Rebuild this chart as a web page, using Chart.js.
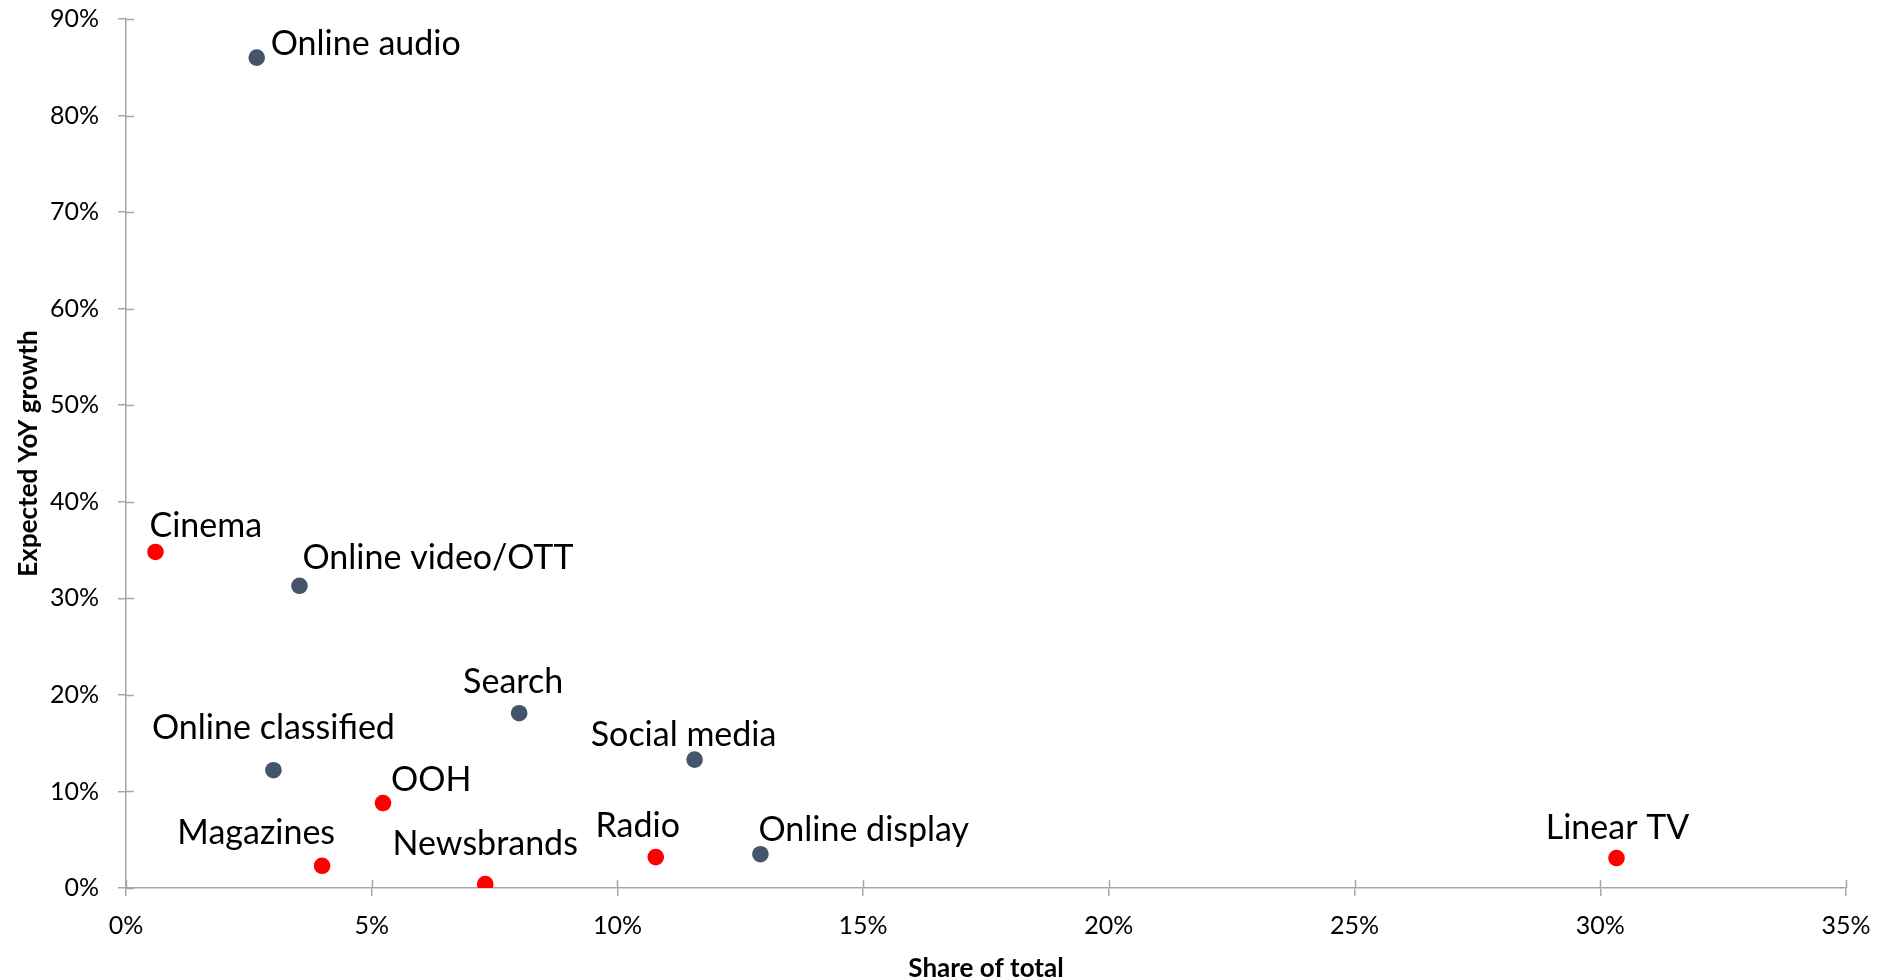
<!DOCTYPE html>
<html>
<head>
<meta charset="utf-8">
<script src="https://cdn.jsdelivr.net/npm/chart.js@4"></script>
<style>
  html, body { margin: 0; padding: 0; background: #fff; }
  #wrap { width: 1878px; height: 978px; }
</style>
</head>
<body>
<div id="wrap"><canvas id="chart"></canvas></div>
<script>
// media channels: share of total spend vs expected YoY growth (%)
const channels = ['Online audio', 'Cinema', 'Online video/OTT', 'Search', 'Online classified', 'Social media',
                  'OOH', 'Magazines', 'Newsbrands', 'Radio', 'Online display', 'Linear TV'];
const shareOfTotal = [2.66, 0.6, 3.53, 8.0, 3.0, 11.57, 5.23, 3.99, 7.31, 10.78, 12.91, 30.33];
const yoyGrowth = [86.0, 34.8, 31.3, 18.1, 12.2, 13.3, 8.8, 2.3, 0.4, 3.2, 3.5, 3.1];
const channelType = ['digital', 'traditional', 'digital', 'digital', 'digital', 'digital',
                     'traditional', 'traditional', 'traditional', 'traditional', 'digital', 'traditional'];
const xTicks = [0, 5, 10, 15, 20, 25, 30, 35];
const yTicks = [0, 10, 20, 30, 40, 50, 60, 70, 80, 90];

// where each label sits relative to its dot (px), like the hand-placed Excel labels
const labelAlign = ['left', 'left', 'left', 'center', 'center', 'center', 'left', 'right', 'center', 'center', 'left', 'center'];
const labelDx = [14, -6, 3, -6, 0, -11, 8, 13, 0, -18, -2, 1];
const labelDy = [-14, -27, -28, -32, -43, -25, -24, -33, -41, -32, -25, -31];

const colors = { traditional: '#FF0000', digital: '#44546A' };
const axisGrey = '#A6A6A6';
const FONT = 'Lato, "Open Sans", sans-serif';

function buildDataset(type) {
    const pts = [];
    channels.forEach((name, i) => {
        if (channelType[i] === type) pts.push({ x: shareOfTotal[i], y: yoyGrowth[i], idx: i });
    });
    return {
        label: type,
        data: pts,
        backgroundColor: colors[type],
        borderWidth: 0,
        pointRadius: 8.3,
        pointHoverRadius: 8.3
    };
}

// labels next to each dot
const pointLabels = {
    id: 'pointLabels',
    afterDatasetsDraw(chart) {
        const ctx = chart.ctx;
        const size = 34;
        ctx.save();
        ctx.font = size + 'px ' + FONT;
        ctx.fillStyle = '#000';
        ctx.textBaseline = 'alphabetic';
        chart.data.datasets.forEach((ds, di) => {
            const meta = chart.getDatasetMeta(di);
            meta.data.forEach((el, j) => {
                const i = ds.data[j].idx;
                ctx.textAlign = labelAlign[i];
                ctx.fillText(channels[i], el.x + labelDx[i], el.y + labelDy[i] + size * 0.34);
            });
        });
        ctx.restore();
    }
};

// Excel style ticks cross the axis: draw the inner half
const crossTicks = {
    id: 'crossTicks',
    afterDraw(chart) {
        const ctx = chart.ctx;
        const xs = chart.scales.x, ys = chart.scales.y;
        const area = chart.chartArea;
        ctx.save();
        ctx.strokeStyle = axisGrey;
        ctx.lineWidth = 1.5;
        ctx.beginPath();
        xTicks.forEach(v => {
            const px = Math.round(xs.getPixelForValue(v)) + 0.5;
            ctx.moveTo(px, area.bottom);
            ctx.lineTo(px, area.bottom - 8);
        });
        yTicks.forEach(v => {
            const py = Math.round(ys.getPixelForValue(v)) + 0.5;
            ctx.moveTo(area.left, py);
            ctx.lineTo(area.left + 8, py);
        });
        ctx.stroke();
        ctx.restore();
    }
};

const ctxChart = document.getElementById('chart').getContext('2d');
new Chart(ctxChart, {
    type: 'scatter',
    data: { datasets: [buildDataset('digital'), buildDataset('traditional')] },
    options: {
        responsive: true,
        maintainAspectRatio: false,
        animation: false,
        layout: { padding: { top: 19, right: 32, bottom: 0, left: 0 } },
        plugins: { legend: { display: false }, tooltip: { enabled: false } },
        scales: {
            x: {
                type: 'linear', min: 0, max: 35,
                afterBuildTicks: s => { s.ticks = xTicks.map(v => ({ value: v })); },
                afterFit: s => { s.height = 90; s.paddingLeft = 0; s.paddingRight = 0; },
                grid: { drawOnChartArea: false, drawTicks: true, tickLength: 8, color: axisGrey, lineWidth: 1.5 },
                border: { display: true, color: axisGrey, width: 1.5 },
                ticks: { padding: 15, color: '#000', font: { family: FONT, size: 25 }, callback: v => v + '%' },
                title: { display: true, text: 'Share of total', color: '#000', padding: { top: 0, bottom: 0 },
                         font: { family: FONT, size: 26, weight: 'bold', lineHeight: 0.75 } }
            },
            y: {
                type: 'linear', min: 0, max: 90,
                afterBuildTicks: s => { s.ticks = yTicks.map(v => ({ value: v })); },
                afterFit: s => { s.width = 126; s.paddingTop = 0; s.paddingBottom = 0; },
                grid: { drawOnChartArea: false, drawTicks: true, tickLength: 8, color: axisGrey, lineWidth: 1.5 },
                border: { display: true, color: axisGrey, width: 1.5 },
                ticks: { padding: 19, color: '#000', font: { family: FONT, size: 25 }, callback: v => v + '%' },
                title: { display: true, text: 'Expected YoY growth', color: '#000', padding: { top: 15.5, bottom: 0 },
                         font: { family: FONT, size: 26, weight: 'bold', lineHeight: 1 } }
            }
        }
    },
    plugins: [pointLabels, crossTicks]
});
</script>
</body>
</html>
